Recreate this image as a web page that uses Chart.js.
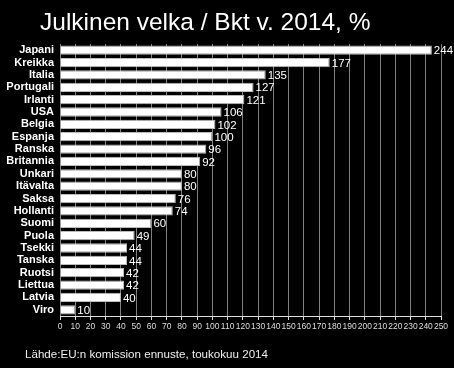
<!DOCTYPE html>
<html>
<head>
<meta charset="utf-8">
<script src="https://cdn.jsdelivr.net/npm/chart.js@4/dist/chart.umd.min.js"></script>
<style>
  html, body { margin: 0; padding: 0; background: #000; }
  #wrap { width: 454px; height: 368px; position: relative; }
</style>
</head>
<body>
<div id="wrap"><canvas id="velka"></canvas></div>
<script>
// Data
var maat = ["Japani", "Kreikka", "Italia", "Portugali", "Irlanti", "USA", "Belgia", "Espanja",
    "Ranska", "Britannia", "Unkari", "Itävalta", "Saksa", "Hollanti", "Suomi", "Puola",
    "Tsekki", "Tanska", "Ruotsi", "Liettua", "Latvia", "Viro"];
var velka = [244, 177, 135, 127, 121, 106, 102, 100, 96, 92, 80, 80, 76, 74, 60, 49, 44, 44, 42, 42, 40, 10];
var otsikko = "Julkinen velka / Bkt v. 2014, %";
var lahde = "Lähde:EU:n komission ennuste, toukokuu 2014";

// Title, source and value labels
var tekstit = {
    id: 'tekstit',
    afterDatasetsDraw: function (chart) {
        var ctx = chart.ctx;
        ctx.save();
        ctx.fillStyle = '#fff';
        ctx.textBaseline = 'middle';
        ctx.textAlign = 'left';
        ctx.font = '11.5px "Liberation Sans", Arial, sans-serif';
        var meta = chart.getDatasetMeta(0);
        meta.data.forEach(function (bar, i) {
            ctx.fillText(velka[i], bar.x + 2, bar.y + 1);
        });
        ctx.font = '24.5px "Liberation Sans", Arial, sans-serif';
        ctx.fillText(otsikko, 40, 23);
        ctx.font = '11.6px "Liberation Sans", Arial, sans-serif';
        ctx.fillStyle = '#eee';
        ctx.fillText(lahde, 25, 355);
        ctx.restore();
    }
};

var ctx1 = document.getElementById('velka').getContext('2d');
var myChart1 = new Chart(ctx1, {
    type: 'bar',
    data: {
        labels: maat,
        datasets: [{
            data: velka,
            backgroundColor: '#ffffff',
            borderColor: '#bbbbbb',
            borderWidth: 1,
            barPercentage: 0.75,
            categoryPercentage: 1
        }]
    },
    options: {
        indexAxis: 'y',
        responsive: true,
        maintainAspectRatio: false,
        animation: false,
        layout: {padding: {top: 44, right: 13, bottom: 0, left: 0}},
        plugins: {
            legend: {display: false},
            tooltip: {enabled: false}
        },
        scales: {
            x: {
                min: 0,
                max: 250,
                ticks: {
                    stepSize: 10,
                    color: '#ddd',
                    font: {size: 8.5, family: '"Liberation Sans", Arial, sans-serif'},
                    maxRotation: 0,
                    autoSkip: false,
                    padding: 2
                },
                grid: {
                    color: '#808080',
                    lineWidth: 1,
                    drawTicks: true,
                    tickLength: 4,
                    tickColor: '#ddd'
                },
                border: {color: '#ddd', width: 1},
                afterFit: function (scale) { scale.height = 52; }
            },
            y: {
                ticks: {
                    color: '#fff',
                    font: {size: 11, weight: 'bold', family: '"Liberation Sans", Arial, sans-serif'},
                    autoSkip: false,
                    padding: 6
                },
                grid: {display: false, drawTicks: false},
                border: {display: false},
                afterFit: function (scale) { scale.width = 60; }
            }
        }
    },
    plugins: [tekstit]
});
</script>
</body>
</html>
